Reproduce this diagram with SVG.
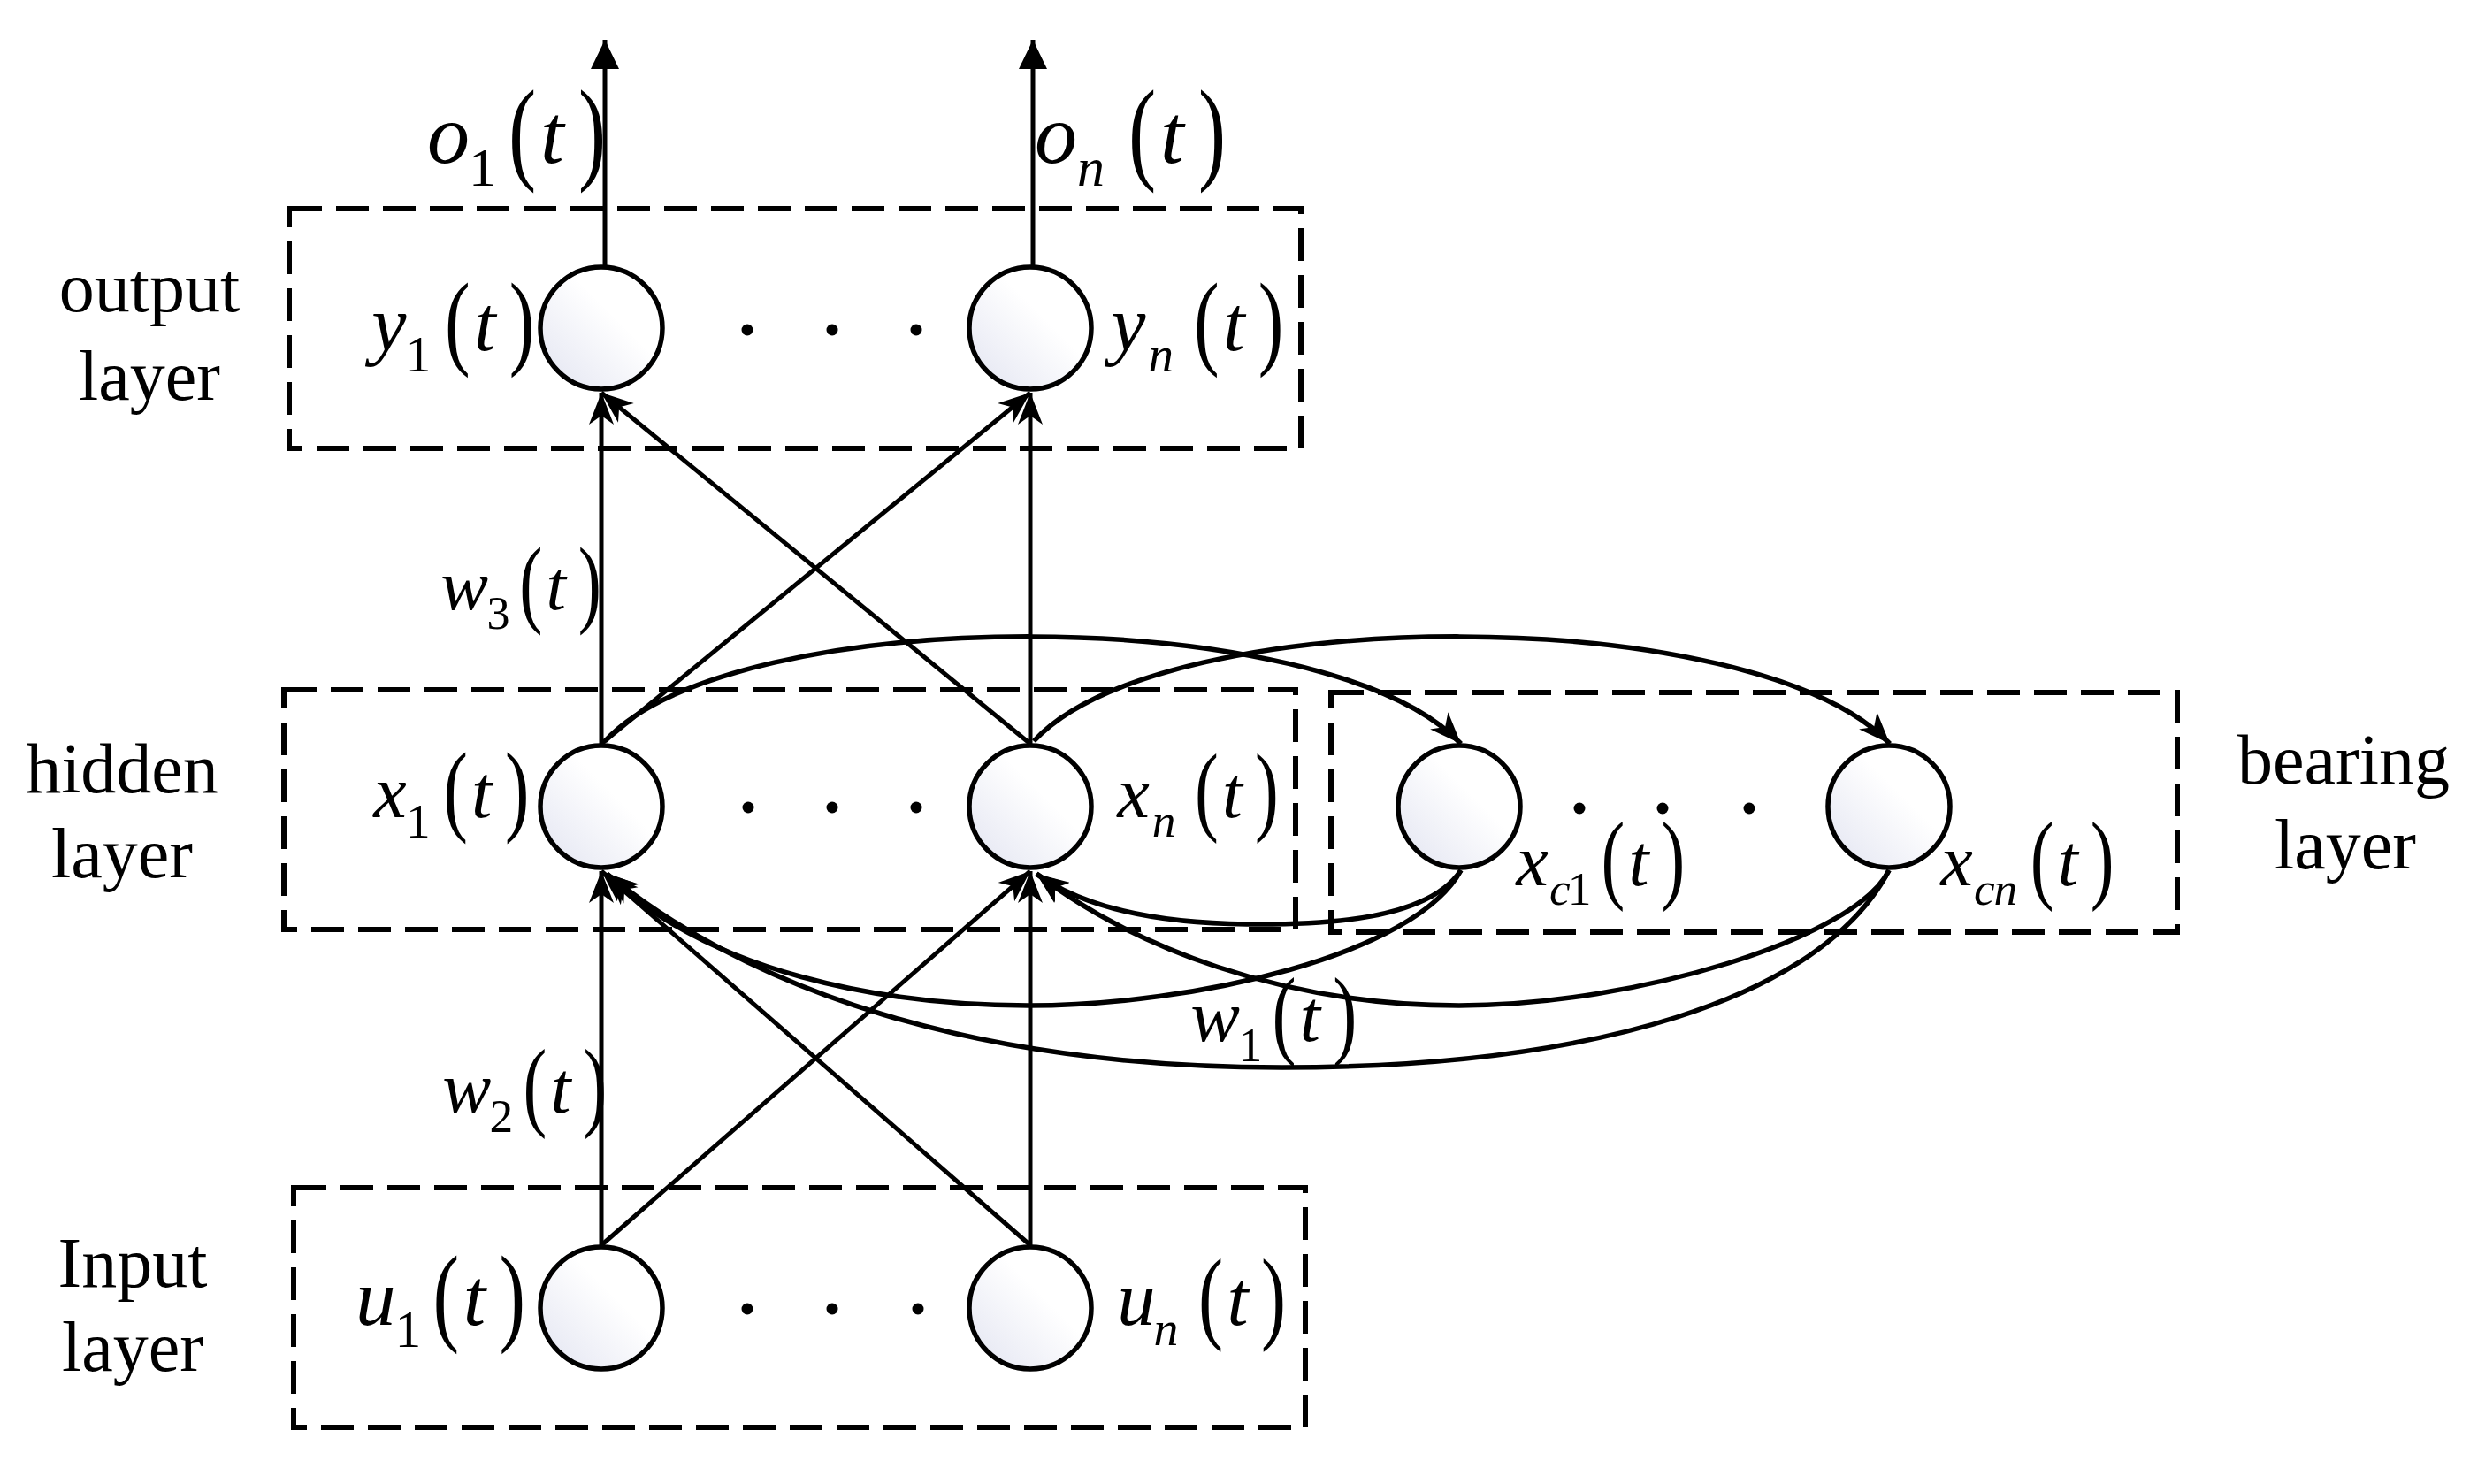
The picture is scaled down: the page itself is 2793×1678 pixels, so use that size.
<svg xmlns="http://www.w3.org/2000/svg" width="2793" height="1678" viewBox="0 0 2793 1678">
<style>
.box{fill:none;stroke:#000;stroke-width:6;stroke-dasharray:37 16}
.node{fill:url(#g);stroke:#000;stroke-width:5.5}
.ln{fill:none;stroke:#000;stroke-width:5}
.cv{fill:none;stroke:#000;stroke-width:5.5}
.dot{fill:#000}
.lbl{font-family:"Liberation Serif","Times New Roman",serif;font-size:80px;text-anchor:middle;fill:#000}
.v{font-family:"Liberation Serif","Times New Roman",serif;font-style:italic;font-size:96px;fill:#000}
.s{font-family:"Liberation Serif","Times New Roman",serif;font-size:62px;fill:#000}
.si{font-family:"Liberation Serif","Times New Roman",serif;font-style:italic;font-size:62px;fill:#000}
.p{font-family:"Liberation Serif","Times New Roman",serif;font-size:130px;fill:#000}
</style>
<defs>
<linearGradient id="g" x1="0" y1="1" x2="1" y2="0">
<stop offset="0" stop-color="#e2e4f1"/>
<stop offset="0.6" stop-color="#ffffff"/>
</linearGradient>
<marker id="a" markerUnits="userSpaceOnUse" orient="auto" viewBox="-40 -18 44 36" markerWidth="44" markerHeight="36" refX="0" refY="0">
<path d="M0,0 L-36,-14 L-26,0 L-36,14 Z" fill="#000"/>
</marker>
<marker id="t" markerUnits="userSpaceOnUse" orient="auto" viewBox="-40 -18 44 36" markerWidth="44" markerHeight="36" refX="0" refY="0">
<path d="M0,0 L-33,-16 L-33,16 Z" fill="#000"/>
</marker>
</defs>
<rect width="2793" height="1678" fill="#fff"/>

<g id="boxes">
<rect id="output-box" class="box" x="327" y="236" width="1144" height="271"/>
<rect id="hidden-box" class="box" x="321" y="780" width="1144" height="271"/>
<rect id="bearing-box" class="box" x="1505" y="783" width="957" height="271"/>
<rect id="input-box" class="box" x="332" y="1343" width="1144" height="271"/>
</g>

<g id="connectors">
<path class="ln" d="M680,1408 L680,985" marker-end="url(#a)"/>
<path class="ln" d="M680,1408 L1165,985" marker-end="url(#a)"/>
<path class="ln" d="M1165,1408 L1165,985" marker-end="url(#a)"/>
<path class="ln" d="M1165,1408 L680,985" marker-end="url(#a)"/>
<path class="ln" d="M680,841 L680,444" marker-end="url(#a)"/>
<path class="ln" d="M680,841 L1165,444" marker-end="url(#a)"/>
<path class="ln" d="M1165,841 L680,444" marker-end="url(#a)"/>
<path class="ln" d="M1165,841 L1165,444" marker-end="url(#a)"/>
<path class="ln" d="M684,300 L684,45" marker-end="url(#t)"/>
<path class="ln" d="M1168,300 L1168,45" marker-end="url(#t)"/>
<path class="cv" d="M684,838 C830,680 1500,680 1652,841" marker-end="url(#a)"/>
<path class="cv" d="M1169,838 C1315,680 1985,680 2137,841" marker-end="url(#a)"/>
<path class="cv" d="M1652,984 C1615,1040 1500,1046 1410,1045 C1320,1044 1230,1030 1172,988" marker-end="url(#a)"/>
<path class="cv" d="M1652,984 C1600,1080 1350,1137 1163,1137 C1000,1137 800,1100 686,988" marker-end="url(#a)"/>
<path class="cv" d="M2136,984 C2100,1060 1850,1137 1650,1137 C1450,1137 1280,1070 1172,988" marker-end="url(#a)"/>
<path class="cv" d="M2136,984 C2060,1130 1800,1207 1450,1207 C1100,1207 850,1120 686,988" marker-end="url(#a)"/>
</g>

<g id="node-y1"><circle class="node" cx="680" cy="371" r="69"/></g>
<g id="node-yn"><circle class="node" cx="1165" cy="371" r="69"/></g>
<g id="node-x1"><circle class="node" cx="680" cy="912" r="69"/></g>
<g id="node-xn"><circle class="node" cx="1165" cy="912" r="69"/></g>
<g id="node-xc1"><circle class="node" cx="1650" cy="912" r="69"/></g>
<g id="node-xcn"><circle class="node" cx="2136" cy="912" r="69"/></g>
<g id="node-u1"><circle class="node" cx="680" cy="1479" r="69"/></g>
<g id="node-un"><circle class="node" cx="1165" cy="1479" r="69"/></g>

<g id="dots">
<circle class="dot" cx="845" cy="373" r="6.5"/><circle class="dot" cx="941" cy="373" r="6.5"/><circle class="dot" cx="1036" cy="373" r="6.5"/>
<circle class="dot" cx="846" cy="913" r="6.5"/><circle class="dot" cx="941" cy="913" r="6.5"/><circle class="dot" cx="1036" cy="913" r="6.5"/>
<circle class="dot" cx="1786" cy="914" r="6.5"/><circle class="dot" cx="1880" cy="914" r="6.5"/><circle class="dot" cx="1978" cy="914" r="6.5"/>
<circle class="dot" cx="845" cy="1480" r="6.5"/><circle class="dot" cx="941" cy="1480" r="6.5"/><circle class="dot" cx="1038" cy="1480" r="6.5"/>
</g>

<g id="layer-labels">
<text class="lbl" x="169" y="352">output</text>
<text class="lbl" x="169" y="452">layer</text>
<text class="lbl" x="138" y="896">hidden</text>
<text class="lbl" x="138" y="992">layer</text>
<text class="lbl" x="150" y="1455">Input</text>
<text class="lbl" x="150" y="1550">layer</text>
<text class="lbl" x="2650" y="886">bearing</text>
<text class="lbl" x="2652" y="982">layer</text>
</g>

<g id="math-labels">
<g transform="translate(485,184)"><text class="v" x="-2" y="0">o</text><text class="s" x="45" y="26">1</text><text class="p" transform="translate(90,7) scale(0.72,1)">(</text><text class="v" x="126" y="0">t</text><text class="p" transform="translate(169,7) scale(0.72,1)">)</text></g>
<g transform="translate(1172,184)"><text class="v" x="-2" y="0">o</text><text class="si" x="46" y="26">n</text><text class="p" transform="translate(104,7) scale(0.72,1)">(</text><text class="v" x="140" y="0">t</text><text class="p" transform="translate(183,7) scale(0.72,1)">)</text></g>
<g transform="translate(422,396) scale(0.92)"><text class="v" x="-2" y="0">y</text><text class="s" x="40" y="26">1</text><text class="p" transform="translate(88,7) scale(0.72,1)">(</text><text class="v" x="124" y="0">t</text><text class="p" transform="translate(167,7) scale(0.72,1)">)</text></g>
<g transform="translate(1258,396) scale(0.92)"><text class="v" x="-2" y="0">y</text><text class="si" x="44" y="26">n</text><text class="p" transform="translate(100,7) scale(0.72,1)">(</text><text class="v" x="136" y="0">t</text><text class="p" transform="translate(179,7) scale(0.72,1)">)</text></g>
<g transform="translate(500,689) scale(0.84)"><text class="v" x="-2" y="0">w</text><text class="s" x="60" y="26">3</text><text class="p" transform="translate(104,7) scale(0.72,1)">(</text><text class="v" x="140" y="0">t</text><text class="p" transform="translate(183,7) scale(0.72,1)">)</text></g>
<g transform="translate(424,924) scale(0.88)"><text class="v" x="-2" y="0">x</text><text class="s" x="40" y="26">1</text><text class="p" transform="translate(88,7) scale(0.72,1)">(</text><text class="v" x="124" y="0">t</text><text class="p" transform="translate(167,7) scale(0.72,1)">)</text></g>
<g transform="translate(1265,924) scale(0.86)"><text class="v" x="-2" y="0">x</text><text class="si" x="44" y="26">n</text><text class="p" transform="translate(100,7) scale(0.72,1)">(</text><text class="v" x="136" y="0">t</text><text class="p" transform="translate(179,7) scale(0.72,1)">)</text></g>
<g transform="translate(1716,1001) scale(0.86)"><text class="v" x="-2" y="0">x</text><text class="si" x="42" y="26">c</text><text class="s" x="66" y="26">1</text><text class="p" transform="translate(110,7) scale(0.72,1)">(</text><text class="v" x="146" y="0">t</text><text class="p" transform="translate(189,7) scale(0.72,1)">)</text></g>
<g transform="translate(2196,1001) scale(0.86)"><text class="v" x="-2" y="0">x</text><text class="si" x="42" y="26">c</text><text class="si" x="68" y="26">n</text><text class="p" transform="translate(116,7) scale(0.72,1)">(</text><text class="v" x="152" y="0">t</text><text class="p" transform="translate(195,7) scale(0.72,1)">)</text></g>
<g transform="translate(1348,1177) scale(0.87)"><text class="v" x="-2" y="0">w</text><text class="s" x="60" y="26">1</text><text class="p" transform="translate(104,7) scale(0.72,1)">(</text><text class="v" x="140" y="0">t</text><text class="p" transform="translate(183,7) scale(0.72,1)">)</text></g>
<g transform="translate(502,1258) scale(0.86)"><text class="v" x="-2" y="0">w</text><text class="s" x="60" y="26">2</text><text class="p" transform="translate(104,7) scale(0.72,1)">(</text><text class="v" x="140" y="0">t</text><text class="p" transform="translate(183,7) scale(0.72,1)">)</text></g>
<g transform="translate(404,1498) scale(0.95)"><text class="v" x="-2" y="0">u</text><text class="s" x="45" y="26">1</text><text class="p" transform="translate(90,7) scale(0.72,1)">(</text><text class="v" x="126" y="0">t</text><text class="p" transform="translate(169,7) scale(0.72,1)">)</text></g>
<g transform="translate(1265,1498) scale(0.9)"><text class="v" x="-2" y="0">u</text><text class="si" x="44" y="26">n</text><text class="p" transform="translate(100,7) scale(0.72,1)">(</text><text class="v" x="136" y="0">t</text><text class="p" transform="translate(179,7) scale(0.72,1)">)</text></g>
</g>
</svg>
